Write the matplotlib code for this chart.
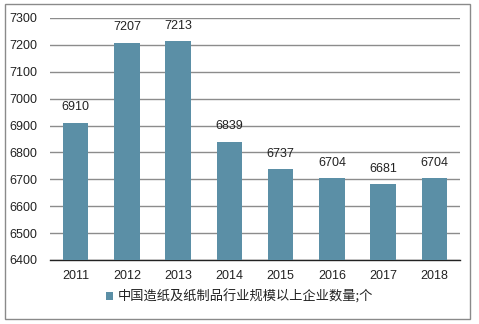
import matplotlib.pyplot as plt
from matplotlib.patches import Rectangle

plt.rcParams['font.family'] = ['Liberation Sans', 'Noto Sans CJK SC', 'DejaVu Sans']

years = ['2011', '2012', '2013', '2014', '2015', '2016', '2017', '2018']
counts = [6910, 7207, 7213, 6839, 6737, 6704, 6681, 6704]
series_name = '中国造纸及纸制品行业规模以上企业数量;个'
yticks = [6400, 6500, 6600, 6700, 6800, 6900, 7000, 7100, 7200, 7300]

bar_color = '#5b8fa6'

fig = plt.figure(figsize=(4.79, 3.24), dpi=100)
# outer frame around the whole chart
fig.patches.append(Rectangle((5 / 479, 5 / 324), 465 / 479, 315 / 324,
                             transform=fig.transFigure, fill=False,
                             edgecolor='#8a8a8a', linewidth=1.0))

ax = fig.add_axes([50 / 479, 64 / 324, 410 / 479, 242 / 324])
x = range(len(years))
bars = ax.bar(x, counts, width=0.5, color=bar_color, zorder=3,
              label=series_name)

for xi, v in zip(x, counts):
    ax.annotate(str(v), (xi, v), xytext=(0, 7), textcoords='offset points',
                ha='center', va='bottom', fontsize=9, color='#222222')

ax.set_ylim(6400, 7300)
ax.set_xlim(-0.5, len(years) - 0.5)
ax.set_yticks(yticks)
ax.set_xticks(list(x))
ax.set_xticklabels(years)
ax.yaxis.grid(True, color='#8c8c8c', linewidth=1.0, zorder=0)
ax.set_axisbelow(True)
for s in ['left', 'right', 'top']:
    ax.spines[s].set_visible(False)
ax.spines['bottom'].set_color('#222222')
ax.spines['bottom'].set_linewidth(1.0)
ax.tick_params(axis='both', length=0, labelsize=9, colors='#222222')
ax.tick_params(axis='x', pad=7)
ax.tick_params(axis='y', pad=9)

leg = fig.legend(handles=[bars], labels=[series_name], loc='center',
                 bbox_to_anchor=(0.5, 27 / 324), frameon=False,
                 fontsize=9.5, handlelength=0.55, handleheight=0.55,
                 handletextpad=0.4)
for t in leg.get_texts():
    t.set_family(['Noto Sans CJK SC', 'DejaVu Sans'])
    t.set_color('#222222')

fig.savefig('out.png', dpi=100)
